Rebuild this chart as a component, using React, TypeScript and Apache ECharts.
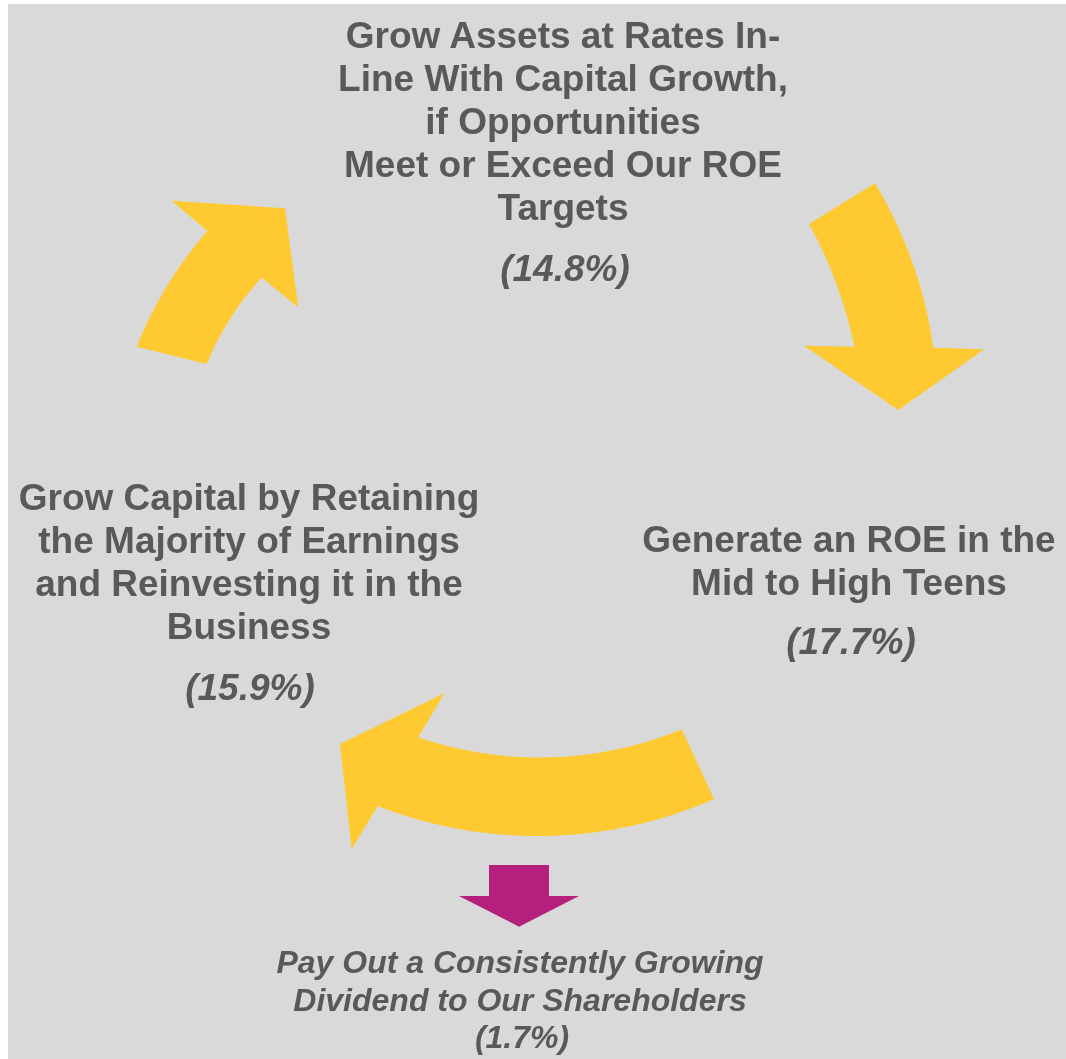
import React, { useEffect, useRef } from "react";
import * as echarts from "echarts";

// ---- content ----
const topLines = ["Grow Assets at Rates In-", "Line With Capital Growth,", "if Opportunities", "Meet or Exceed Our ROE", "Targets"];
const topPct = "(14.8%)";
const rightLines = ["Generate an ROE in the", "Mid to High Teens"];
const rightPct = "(17.7%)";
const leftLines = ["Grow Capital by Retaining", "the Majority of Earnings", "and Reinvesting it in the", "Business"];
const leftPct = "(15.9%)";
const bottomLines = ["Pay Out a Consistently Growing", "Dividend to Our Shareholders"];
const bottomPct = "(1.7%)";

// ---- styling ----
const BG = "#D9D9D9";
const YELLOW = "#FFCA31";
const MAGENTA = "#B5207F";
const TEXT = "#595959";
const FONT = "'Liberation Sans', Arial, Helvetica, sans-serif";

type P = [number, number];

// shape geometry of the cycle arrows (outer edge, head, inner edge)
const arrowTopLeft = {
  outer: [[136.7, 346.7], [164.7, 290], [207.3, 231]] as P[],
  head: [[171.7, 200.7], [285, 208.3], [298.3, 307.3]] as P[],
  inner: [[261.7, 277.7], [230, 319], [206.7, 364]] as P[],
};
const arrowRight = {
  outer: [[875, 183.3], [915, 270], [933.3, 347.7]] as P[],
  head: [[984.3, 349.3], [898.3, 410], [804, 345.7]] as P[],
  inner: [[854.3, 346.7], [831, 270], [809, 224]] as P[],
};
const arrowBottom = {
  outer: [[714, 799], [545, 836], [377.7, 806]] as P[],
  head: [[351.7, 849], [340, 744], [444.3, 693.3]] as P[],
  inner: [[418.3, 737.3], [545, 757.5], [681.7, 729.3]] as P[],
};

function circumcircle(a: P, b: P, c: P) {
  const d = 2 * (a[0] * (b[1] - c[1]) + b[0] * (c[1] - a[1]) + c[0] * (a[1] - b[1]));
  const a2 = a[0] * a[0] + a[1] * a[1];
  const b2 = b[0] * b[0] + b[1] * b[1];
  const c2 = c[0] * c[0] + c[1] * c[1];
  const ux = (a2 * (b[1] - c[1]) + b2 * (c[1] - a[1]) + c2 * (a[1] - b[1])) / d;
  const uy = (a2 * (c[0] - b[0]) + b2 * (a[0] - c[0]) + c2 * (b[0] - a[0])) / d;
  return { cx: ux, cy: uy, r: Math.hypot(a[0] - ux, a[1] - uy) };
}

function wrap(t: number) {
  while (t > Math.PI) t -= 2 * Math.PI;
  while (t <= -Math.PI) t += 2 * Math.PI;
  return t;
}

function arcPoints(pts: P[], n = 40): P[] {
  const [a, m, b] = pts;
  const { cx, cy, r } = circumcircle(a, m, b);
  const ta = Math.atan2(a[1] - cy, a[0] - cx);
  const tb = Math.atan2(b[1] - cy, b[0] - cx);
  const d = wrap(tb - ta);
  const out: P[] = [];
  for (let i = 0; i <= n; i++) {
    const t = ta + (d * i) / n;
    out.push([cx + r * Math.cos(t), cy + r * Math.sin(t)]);
  }
  return out;
}

function arrowPolygon(g: { outer: P[]; head: P[]; inner: P[] }): P[] {
  return [...arcPoints(g.outer), ...g.head, ...arcPoints(g.inner)];
}

const payoutArrow: P[] = [
  [489, 865], [549, 865], [549, 896], [579, 896], [519, 926.7], [459, 896], [489, 896],
];

function textLines(lines: string[], cx: number, y0: number, step: number, size: number, italic: boolean) {
  return lines.map((t, i) => ({
    type: "text",
    x: cx,
    y: y0 + i * step,
    style: {
      text: t,
      fill: TEXT,
      fontFamily: FONT,
      fontWeight: "bold",
      fontStyle: italic ? "italic" : "normal",
      fontSize: size,
      align: "center",
      verticalAlign: "middle",
    },
  }));
}

export default function App() {
  const ref = useRef<HTMLDivElement>(null);
  useEffect(() => {
    if (!ref.current) return;
    const chart = echarts.init(ref.current, undefined, { renderer: "svg" });
    chart.setOption({
      animation: false,
      graphic: [
        { type: "rect", shape: { x: 8, y: 4, width: 1058, height: 1055 }, style: { fill: BG } },
        { type: "polygon", shape: { points: arrowPolygon(arrowTopLeft) }, style: { fill: YELLOW } },
        { type: "polygon", shape: { points: arrowPolygon(arrowRight) }, style: { fill: YELLOW } },
        { type: "polygon", shape: { points: arrowPolygon(arrowBottom) }, style: { fill: YELLOW } },
        { type: "polygon", shape: { points: payoutArrow }, style: { fill: MAGENTA } },
        ...textLines(topLines, 563, 35, 43, 37, false),
        ...textLines([topPct], 565, 268, 43, 37, true),
        ...textLines(leftLines, 249, 497, 43, 37, false),
        ...textLines([leftPct], 250, 687, 43, 37, true),
        ...textLines(rightLines, 849, 539, 43, 37, false),
        ...textLines([rightPct], 851, 641, 43, 37, true),
        ...textLines(bottomLines, 520, 962, 37.5, 32, true),
        ...textLines([bottomPct], 522, 1037, 37, 32, true),
      ],
    });
    return () => chart.dispose();
  }, []);
  return (
    <div
      ref={ref}
      style={{ position: "fixed", left: 0, top: 0, width: 1066, height: 1059 }}
    />
  );
}
